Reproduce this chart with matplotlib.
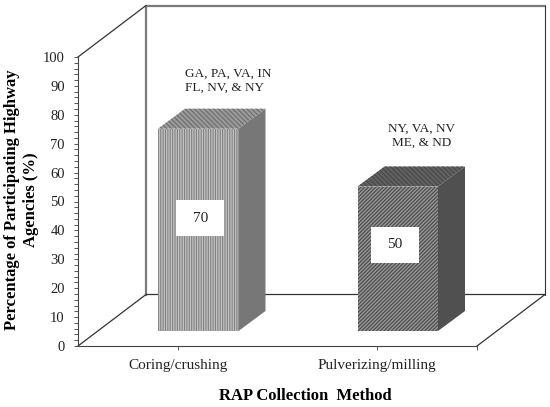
import matplotlib
matplotlib.use('Agg')
import matplotlib.pyplot as plt
from matplotlib.patches import Polygon, Rectangle

plt.rcParams['font.family'] = ['Liberation Serif', 'DejaVu Serif']
plt.rcParams['hatch.linewidth'] = 0.8

# data
methods = ['Coring/crushing', 'Pulverizing/milling']
percent = [70, 50]
states = ['GA, PA, VA, IN\nFL, NV, & NY', 'NY, VA, NV\nME, & ND']

W, H = 550, 407
fig = plt.figure(figsize=(5.5, 4.07), dpi=100)
ax = fig.add_axes([78/W, 1-346/H, (477-78)/W, (346-57)/H])
ax.set_xlim(0, 2)
ax.set_ylim(0, 100)

# px to data
sx = 2/399.0
sy = 100/289.0

# back walls and floor
bx, by = 68*sx, 51.5*sy
ax.plot([bx, bx, 2+bx], [by, 100+by, 100+by], color='#7a7a7a', lw=1.6, clip_on=False, zorder=1)
ax.plot([2+bx, 2+bx], [by, 100+by], color='#333333', lw=0.8, clip_on=False, zorder=1)
ax.plot([0, bx], [100, 100+by], color='#333333', lw=0.9, clip_on=False, zorder=1)
ax.plot([0, bx, 2+bx, 2], [0, by, by, 0], color='#333333', lw=0.9, clip_on=False, zorder=1)

# bars
off = 20.5*sx
bw = 80.5*sx
base = 15*sy
dx, dy = 27*sx, 20*sy
styles = [
    dict(face='#c2c2c2', edge='#828282', hatch='|||||||', top='#9a9a9a', tedge='#6c6c6c', thatch='\\\\\\\\\\\\\\', side='#777777',
         box_dx=-0.5, box_dy=4.1),
    dict(face='#939393', edge='#4a4a4a', hatch='/////////', top='#606060', tedge='#484848', thatch='\\\\\\\\\\\\\\', side='#505050',
         box_dx=-5.5, box_dy=4.8),
]
for i, v in enumerate(percent):
    s = styles[i]
    x0 = i+0.5+off-bw/2
    x1 = x0+bw
    ax.bar(x0, v, width=bw, bottom=base, align='edge', facecolor=s['face'], edgecolor=s['edge'],
           hatch=s['hatch'], lw=0, zorder=3, clip_on=False)
    ax.add_patch(Polygon([[x1, base], [x1+dx, base+dy], [x1+dx, base+v+dy], [x1, base+v]],
                         facecolor=s['side'], edgecolor='none', zorder=3, clip_on=False))
    ax.add_patch(Polygon([[x0, base+v], [x1, base+v], [x1+dx, base+v+dy], [x0+dx, base+v+dy]],
                         facecolor=s['top'], edgecolor=s['tedge'], hatch=s['thatch'], lw=0, zorder=3, clip_on=False))
    # value box on the front face
    cx = x0+bw*0.53+s['box_dx']*sx
    cy = base+v*0.5+s['box_dy']
    ax.add_patch(Rectangle((cx-24*sx, cy-18*sy), 48*sx, 36*sy, facecolor='white', edgecolor='none', zorder=4))
    ax.text(cx, cy, str(v), ha='center', va='center', fontsize=11, color='#222222', zorder=5)

# axes
for k in ['top', 'right']:
    ax.spines[k].set_visible(False)
ax.spines['left'].set_color('#444444')
ax.spines['bottom'].set_color('#444444')
ax.set_yticks(range(0, 101, 10))
ax.set_yticks(range(0, 101, 2), minor=True)
ax.set_xticks([0.5, 1.5], methods)
ax.set_xticks([2], minor=True)
ax.tick_params(axis='y', which='both', length=3, width=0.7, color='#555555', labelsize=10.5, labelcolor='#222222', pad=6.5)
ax.tick_params(axis='x', which='both', length=3, width=0.7, color='#555555', labelsize=11, labelcolor='#222222', pad=6)

# states
fig.text(185/W, 1-81/H, states[0], ha='left', va='center', fontsize=9.5, color='#222222', linespacing=1.2)
fig.text(422/W, 1-136/H, states[1], ha='center', va='center', fontsize=9.5, color='#222222', linespacing=1.2)

# axis titles
fig.text(305/W, 1-396/H, 'RAP Collection  Method', ha='center', va='center', fontsize=12, fontweight='bold')
fig.text(21.5/W, 1-200/H, 'Percentage of Participating Highway\nAgencies (%)', rotation=90, ha='center', va='center',
         fontsize=12, fontweight='bold', linespacing=1.25, multialignment='center')

fig.savefig('out.png', dpi=100)
